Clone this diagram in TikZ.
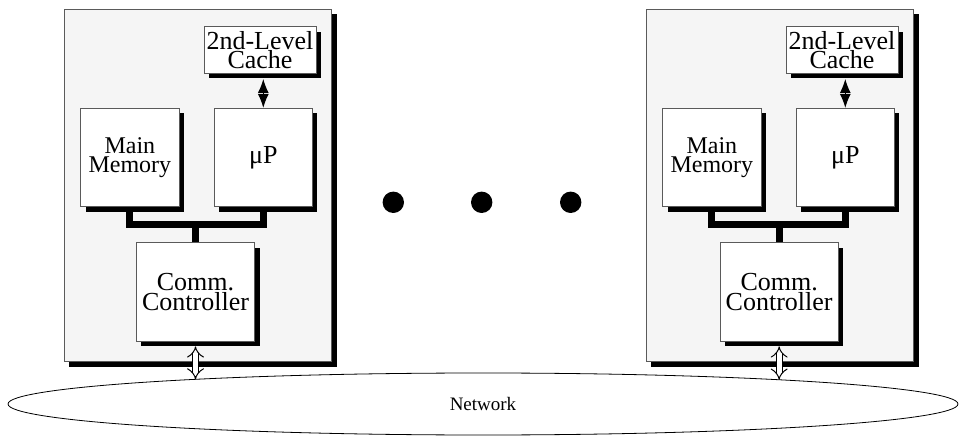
\documentclass[tikz,border=0pt]{standalone}
\usepackage{fontspec}
\setmainfont{Liberation Serif}
\usetikzlibrary{shapes.geometric,shadows,arrows.meta,calc}
\definecolor{panelgray}{RGB}{245,245,245}
\definecolor{edgegray}{RGB}{90,90,90}
\tikzset{
  shad/.style={drop shadow={shadow xshift=5pt,shadow yshift=-5pt,opacity=1,fill=black}},
  panel/.style={draw=edgegray,line width=0.7pt,fill=panelgray,shad,minimum width=267.7pt,minimum height=352.7pt,inner sep=0pt},
  unit/.style={draw=edgegray,line width=0.7pt,fill=white,shad,align=center,inner sep=0pt},
  bus/.style={line width=7pt,line join=miter},
  cachearrow/.style={line width=1.2pt,{Latex[length=14pt,width=11pt]}-{Latex[length=14pt,width=11pt]}},
  netarrow/.style={double,double distance=5pt,line width=1pt,{Implies}-{Implies}},
  dot/.style={circle,fill=black,minimum size=21.4pt,inner sep=0pt},
  bigtext/.style={font=\fontsize{26}{19.5}\selectfont},
  midtext/.style={font=\fontsize{24}{19.7}\selectfont},
}
\begin{document}
\begin{tikzpicture}[x=1pt,y=-1pt]
\useasboundingbox (0,0) rectangle (964,438);

% network
\node[ellipse,draw,line width=0.8pt,minimum width=950pt,minimum height=62pt,inner sep=0pt,font=\fontsize{19}{20}\selectfont] (net) at (483,404) {Network};

% ----- left node -----
\node[panel] (p1) at (197.85,185.35) {};
\coordinate (bus1) at (0,225);
\draw[bus] (129.85,206) -- (129.85,225) -- (263.3,225) -- (263.3,206);
\node[unit,midtext,minimum width=98.3pt,minimum height=98.4pt] (mm1) at (129.85,157.5) {Main\\Memory};
\node[unit,bigtext,minimum width=98pt,minimum height=98.4pt] (mp1) at (263.3,157.5) {μP};
\node[unit,bigtext,minimum width=112pt,minimum height=46.6pt] (c1) at (260,50) {2nd-Level\\Cache};
\node[unit,bigtext,minimum width=118.3pt,minimum height=98.3pt] (cc1) at (195.5,291.85) {Comm.\\Controller};
\draw[bus] (cc1.north) -- (cc1.north |- bus1);
\coordinate (ca1) at ($(c1.south -| mp1.north)+(0,5.3)$);
\draw[cachearrow] (ca1) -- (mp1.north);
\coordinate (na1) at (195.5,379.5);
\draw[netarrow] ($(cc1.south)+(0,5)$) -- (na1);

% ----- right node -----
\node[panel] (p2) at (779.85,185.35) {};
\coordinate (bus2) at (0,225);
\draw[bus] (711.85,206) -- (711.85,225) -- (845.3,225) -- (845.3,206);
\node[unit,midtext,minimum width=98.3pt,minimum height=98.4pt] (mm2) at (711.85,157.5) {Main\\Memory};
\node[unit,bigtext,minimum width=98pt,minimum height=98.4pt] (mp2) at (845.3,157.5) {μP};
\node[unit,bigtext,minimum width=112pt,minimum height=46.6pt] (c2) at (842,50) {2nd-Level\\Cache};
\node[unit,bigtext,minimum width=118.3pt,minimum height=98.3pt] (cc2) at (779.15,291.85) {Comm.\\Controller};
\draw[bus] (cc2.north) -- (cc2.north |- bus2);
\coordinate (ca2) at ($(c2.south -| mp2.north)+(0,5.3)$);
\draw[cachearrow] (ca2) -- (mp2.north);
\coordinate (na2) at (779.15,379.8);
\draw[netarrow] ($(cc2.south)+(0,5)$) -- (na2);

% dots
\node[dot] (d1) at (393.3,202.3) {};
\node[dot] (d2) at (481.7,202.3) {};
\node[dot] (d3) at (570.7,202.3) {};
\end{tikzpicture}
\end{document}
